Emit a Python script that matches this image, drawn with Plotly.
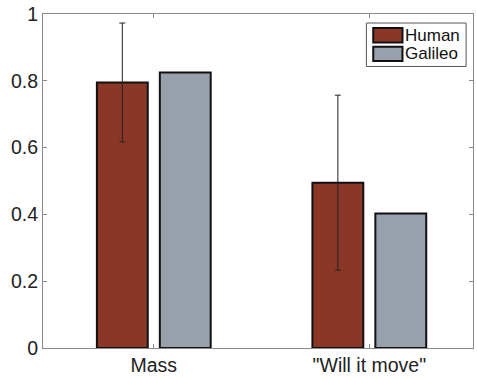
import plotly.graph_objects as go

# Data
categories = ["Mass", "\"Will it move\""]
human = [0.795, 0.495]
human_err = [0.178, 0.262]
galileo = [0.825, 0.403]

x_pos = [1, 2]
bar_w = 0.236

human_color = "#8a3728"
galileo_color = "#98a0ab"

fig = go.Figure()
fig.add_trace(go.Bar(
    x=x_pos, y=human, width=bar_w, offset=-0.264,
    marker=dict(color=human_color, line=dict(color="#111", width=2)),
    error_y=dict(type="data", array=human_err, color="#222", thickness=1, width=3),
    name="Human", showlegend=False,
))
fig.add_trace(go.Bar(
    x=x_pos, y=galileo, width=bar_w, offset=0.028,
    marker=dict(color=galileo_color, line=dict(color="#111", width=2)),
    name="Galileo", showlegend=False,
))

font = dict(family="Liberation Sans, Arial, sans-serif", size=19.5, color="#222")
axis_common = dict(showline=True, linecolor="#8a8a8a", linewidth=1, mirror="ticks",
                   ticks="inside", ticklen=4, tickcolor="#8a8a8a", showgrid=False,
                   zeroline=False)

fig.update_layout(
    width=477, height=379,
    margin=dict(l=43, r=3, t=14, b=27),
    paper_bgcolor="white", plot_bgcolor="white",
    barmode="overlay",
    font=font,
    xaxis=dict(range=[0.486, 2.481], tickvals=x_pos, ticktext=categories, **axis_common),
    yaxis=dict(range=[0, 1], tickvals=[0, 0.2, 0.4, 0.6, 0.8, 1],
               ticktext=["0", "0.2", "0.4", "0.6", "0.8", "1"], **axis_common),
)

# Legend box drawn with shapes
legend_items = [("Human", human_color), ("Galileo", galileo_color)]
fig.add_shape(type="rect", xref="paper", yref="paper", x0=0.752, x1=0.984, y0=0.843, y1=0.973,
              line=dict(color="#555", width=1), fillcolor="white")
for i, (label, col) in enumerate(legend_items):
    ytop = 0.958 - i * 0.056
    fig.add_shape(type="rect", xref="paper", yref="paper", x0=0.768, x1=0.836,
                  y0=ytop - 0.043, y1=ytop, line=dict(color="#111", width=2), fillcolor=col)
    fig.add_annotation(xref="paper", yref="paper", x=0.838, y=ytop - 0.0215, text=label,
                       showarrow=False, xanchor="left", yanchor="middle",
                       font=dict(family="Liberation Sans, Arial, sans-serif", size=17, color="#111"))

fig.write_html("out.html")
